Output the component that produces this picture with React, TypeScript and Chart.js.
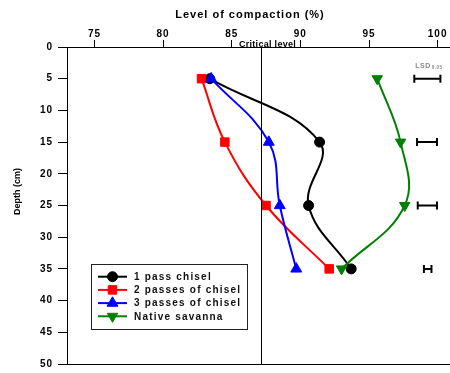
import React, { useEffect, useRef } from 'react';
import { Chart, registerables } from 'chart.js';
import { drawPoint } from 'chart.js/helpers';

Chart.register(...registerables);

// ---- data ----
const depths = [5, 15, 25, 35];
const onePassChisel = [83.4, 91.4, 90.6, 93.7];
const twoPassesChisel = [82.8, 84.5, 87.5, 92.1];
const threePassesChisel = [83.5, 87.7, 88.5, 89.7];
const nativeSavanna = [95.6, 97.3, 97.6, 93.0];
const lsdLow = [98.3, 98.5, 98.55, 99.0];
const lsdHigh = [100.2, 99.95, 99.95, 99.55];
const criticalLevel = 87.1;
const compactionTicks = [75, 80, 85, 90, 95, 100];
const depthTicks = [0, 5, 10, 15, 20, 25, 30, 35, 40, 45, 50];
const seriesLabels = ['1 pass chisel', '2 passes of chisel', '3 passes of chisel', 'Native savanna'];
const seriesValues = [onePassChisel, twoPassesChisel, threePassesChisel, nativeSavanna];

// ---- styles ----
const FONT = "'Liberation Sans', Arial, Helvetica, sans-serif";
const seriesColors = ['#000000', '#ff0000', '#0000ff', '#008000'];
const seriesPointStyles = ['circle', 'rect', 'triangle', 'triangle'];
const seriesRadii = [5, 6, 6.3, 6];
const seriesRotations = [0, 0, 0, 180];
const seriesOrder = [4, 3, 1, 2];

const overlayPlugin = {
  id: 'overlay',
  beforeDraw(chart: any) {
    (chart.ctx as any).letterSpacing = '1px';
  },
  afterDraw(chart: any) {
    const { ctx, chartArea: ca } = chart;
    const xs = chart.scales.x;
    const ys = chart.scales.y;
    ctx.save();
    (ctx as any).letterSpacing = '0px';

    // bottom frame line
    ctx.strokeStyle = '#000';
    ctx.lineWidth = 1;
    const by = Math.round(ca.bottom) + 0.5;
    ctx.beginPath();
    ctx.moveTo(ca.left, by);
    ctx.lineTo(ca.right, by);
    ctx.stroke();

    // critical level line
    const cx = Math.round(xs.getPixelForValue(criticalLevel)) + 0.5;
    ctx.beginPath();
    ctx.moveTo(cx, ca.top);
    ctx.lineTo(cx, ca.bottom);
    ctx.stroke();
    ctx.fillStyle = '#000';
    ctx.font = `bold 9px ${FONT}`;
    (ctx as any).letterSpacing = '0.3px';
    ctx.textAlign = 'center';
    ctx.textBaseline = 'alphabetic';
    ctx.fillText('Critical level', cx + 6, ca.top - 0.5);

    // title
    ctx.font = `bold 11px ${FONT}`;
    (ctx as any).letterSpacing = '1px';
    ctx.fillText('Level of compaction (%)', 250, 17.5);

    // y title
    ctx.save();
    ctx.translate(19.5, 191.5);
    ctx.rotate(-Math.PI / 2);
    ctx.font = `bold 9px ${FONT}`;
    (ctx as any).letterSpacing = '0px';
    ctx.textBaseline = 'alphabetic';
    ctx.fillText('Depth (cm)', 0, 0);
    ctx.restore();

    // LSD bars
    ctx.strokeStyle = '#000';
    ctx.lineWidth = 2;
    depths.forEach((d, i) => {
      const py = ys.getPixelForValue(d);
      const x1 = xs.getPixelForValue(lsdLow[i]);
      const x2 = xs.getPixelForValue(lsdHigh[i]);
      ctx.beginPath();
      ctx.moveTo(x1, py);
      ctx.lineTo(x2, py);
      ctx.moveTo(x1, py - 4);
      ctx.lineTo(x1, py + 4);
      ctx.moveTo(x2, py - 4);
      ctx.lineTo(x2, py + 4);
      ctx.stroke();
    });
    // LSD label
    const lx = xs.getPixelForValue(lsdLow[0]);
    const ly = ys.getPixelForValue(depths[0]) - 11;
    ctx.fillStyle = '#888';
    ctx.textAlign = 'left';
    ctx.font = `bold 7px ${FONT}`;
    (ctx as any).letterSpacing = '0.5px';
    ctx.fillText('LSD', lx + 1, ly);
    const w = ctx.measureText('LSD').width;
    ctx.font = `bold 4.5px ${FONT}`;
    ctx.fillText('0.05', lx + 2 + w, ly + 1.5);

    // legend
    const bx = 91, bTop = 264, bw = 156, bh = 65;
    (ctx as any).letterSpacing = '0px';
    ctx.fillStyle = '#fff';
    ctx.fillRect(bx, bTop, bw, bh);
    ctx.strokeStyle = '#222';
    ctx.lineWidth = 1;
    ctx.strokeRect(bx + 0.5, bTop + 0.5, bw, bh);
    seriesLabels.forEach((label, i) => {
      const ry = bTop + 12.7 + i * 13.2;
      ctx.strokeStyle = seriesColors[i];
      ctx.lineWidth = 2;
      ctx.beginPath();
      ctx.moveTo(98, ry);
      ctx.lineTo(127, ry);
      ctx.stroke();
      ctx.fillStyle = seriesColors[i];
      ctx.lineWidth = 1;
      drawPoint(ctx, {
        pointStyle: seriesPointStyles[i],
        radius: seriesRadii[i],
        rotation: seriesRotations[i],
        borderWidth: 1,
      } as any, 112.5, ry);
      ctx.fillStyle = '#111';
      ctx.font = `bold 10px ${FONT}`;
      (ctx as any).letterSpacing = '1.2px';
      ctx.textAlign = 'left';
      ctx.textBaseline = 'middle';
      ctx.fillText(label, 134, ry + 0.5);
      (ctx as any).letterSpacing = '0px';
    });

    ctx.restore();
  },
};

export default function App() {
  const ref = useRef<HTMLCanvasElement | null>(null);

  useEffect(() => {
    document.body.style.margin = '0';
    const canvas = ref.current;
    if (!canvas) return;
    const datasets = seriesLabels.map((label, i) => ({
      label,
      data: depths.map((d, j) => ({ x: seriesValues[i][j], y: d })),
      borderColor: seriesColors[i],
      backgroundColor: seriesColors[i],
      borderWidth: 2,
      pointStyle: seriesPointStyles[i],
      pointRadius: seriesRadii[i],
      pointRotation: seriesRotations[i],
      pointBorderWidth: 1,
      showLine: true,
      tension: 0.4,
      order: seriesOrder[i],
      clip: false,
    }));
    const tickFont = { family: FONT, size: 10, weight: 'bold' as const };
    const chart = new Chart(canvas, {
      type: 'scatter',
      data: { datasets } as any,
      options: {
        animation: false,
        responsive: false,
        maintainAspectRatio: false,
        devicePixelRatio: 1,
        layout: { autoPadding: false, padding: { left: 0, right: 0, top: 0, bottom: 9 } },
        plugins: { legend: { display: false }, tooltip: { enabled: false } },
        scales: {
          x: {
            type: 'linear',
            position: 'top',
            min: 73,
            max: 100.9,
            afterBuildTicks: (s: any) => {
              s.ticks = compactionTicks.map((v) => ({ value: v }));
            },
            afterFit: (s: any) => {
              s.height = 47;
              s.paddingLeft = 0;
              s.paddingRight = 0;
            },
            grid: { display: true, drawOnChartArea: false, drawTicks: true, tickLength: 7, tickColor: '#000', tickWidth: 1 },
            border: { display: true, color: '#000', width: 1 },
            ticks: { color: '#000', font: tickFont, padding: 0, maxRotation: 0, autoSkip: false },
          },
          y: {
            type: 'linear',
            position: 'left',
            reverse: true,
            min: 0,
            max: 50,
            afterBuildTicks: (s: any) => {
              s.ticks = depthTicks.map((v) => ({ value: v }));
            },
            afterFit: (s: any) => {
              s.width = 67;
              s.paddingTop = 0;
              s.paddingBottom = 0;
            },
            grid: { display: true, drawOnChartArea: false, drawTicks: true, tickLength: 9, tickColor: '#000', tickWidth: 1 },
            border: { display: true, color: '#000', width: 1 },
            ticks: { color: '#000', font: tickFont, padding: 5, autoSkip: false },
          },
        },
      } as any,
      plugins: [overlayPlugin],
    });
    return () => chart.destroy();
  }, []);

  return (
    <div style={{ width: 450, height: 373, background: '#fff' }}>
      <canvas ref={ref} width={450} height={373} />
    </div>
  );
}
